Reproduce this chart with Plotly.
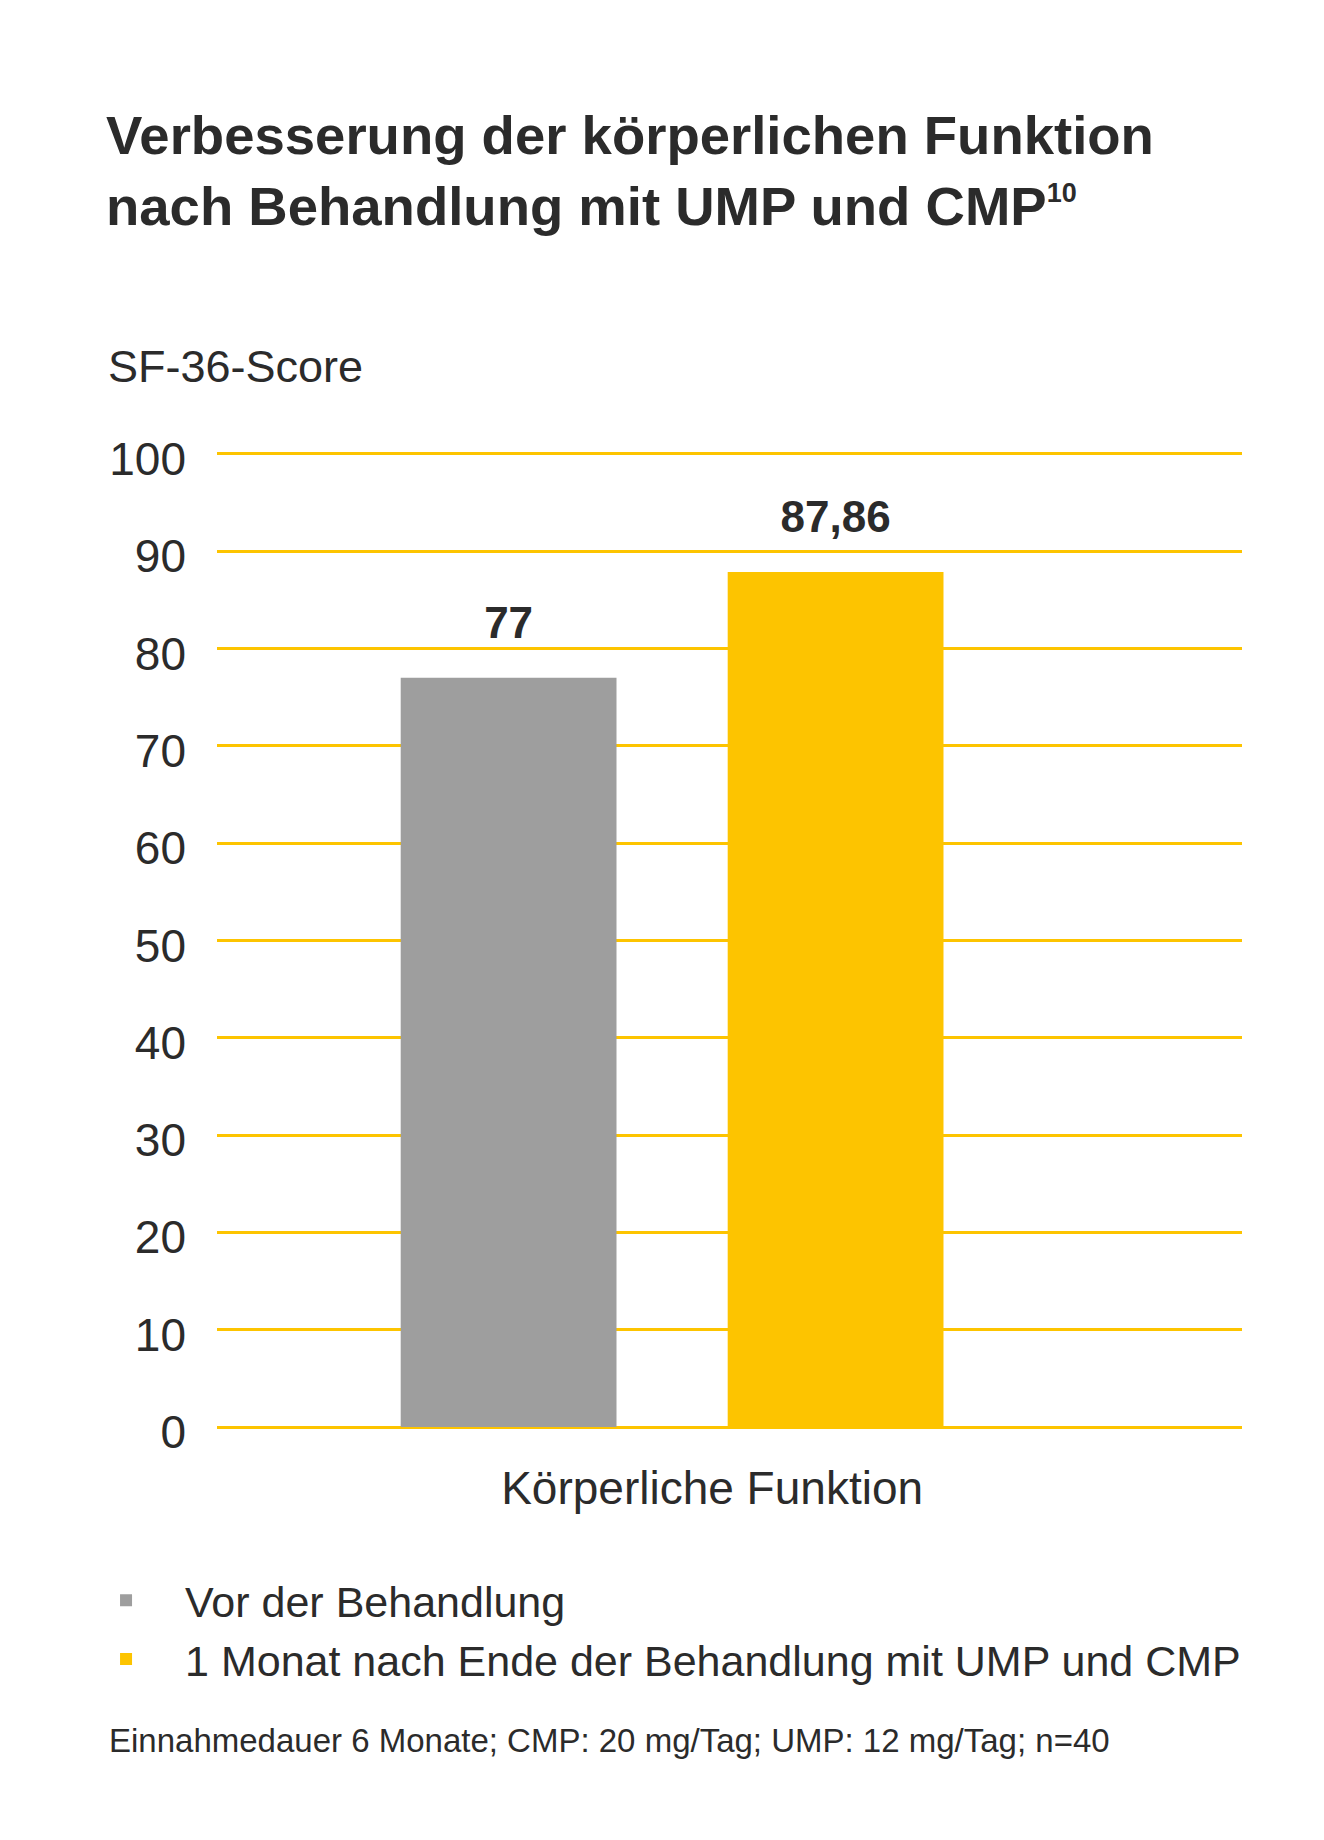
import plotly.graph_objects as go

# data
categories = ["Körperliche Funktion"]
series_names = ["Vor der Behandlung", "1 Monat nach Ende der Behandlung mit UMP und CMP"]
series_values = [[77], [87.86]]
value_labels = [["77"], ["87,86"]]
series_colors = ["#9E9E9E", "#FDC400"]
y_ticks = list(range(0, 101, 10))

title_text = ("Verbesserung der körperlichen Funktion<br>"
              "nach Behandlung mit UMP und CMP"
              "<sup><span style='font-size:27px'>10</span></sup>")
y_title = "SF-36-Score"
footnote = "Einnahmedauer 6 Monate; CMP: 20 mg/Tag; UMP: 12 mg/Tag; n=40"

FONT = "Helvetica Neue, Liberation Sans, Arial, sans-serif"
TEXT = "#2B2B2B"
GRID = "#FDC400"

# page body has an 8px margin, so the figure is 8px smaller than the window
W, H = 1316, 1832

fig = go.Figure()

# bars
for i, name in enumerate(series_names):
    fig.add_trace(go.Bar(
        x=categories,
        y=series_values[i],
        name=name,
        marker_color=series_colors[i],
        marker_line_width=0,
        offsetgroup=f"g{i}",
        hoverinfo="name+y",
    ))

# value labels, grouped like the bars (invisible markers push the text up)
for i, name in enumerate(series_names):
    fig.add_trace(go.Scatter(
        x=categories,
        y=series_values[i],
        mode="markers+text",
        text=value_labels[i],
        textposition="top center",
        textfont=dict(family=FONT, size=44, color=TEXT, weight=700),
        marker=dict(size=45, opacity=0),
        offsetgroup=f"g{i}",
        showlegend=False,
        hoverinfo="skip",
        cliponaxis=False,
    ))

fig.update_layout(
    width=W,
    height=H,
    margin=dict(l=209, r=82, t=442, b=413),
    paper_bgcolor="white",
    plot_bgcolor="white",
    font=dict(family=FONT, color=TEXT),
    barmode="group",
    bargap=0.362,
    bargroupgap=0.34,
    scattermode="group",
    title=dict(
        text=title_text,
        font=dict(family=FONT, size=54.5, color=TEXT, weight=700),
        x=98 / W,
        xref="container",
        xanchor="left",
        y=1 - 146 / H,
        yref="container",
        yanchor="top",
    ),
    legend=dict(
        orientation="v",
        x=-0.1463,
        xanchor="left",
        y=-0.142,
        yanchor="top",
        itemwidth=108,
        font=dict(family=FONT, size=43, color=TEXT),
        traceorder="normal",
        bgcolor="rgba(0,0,0,0)",
    ),
    showlegend=True,
)

fig.update_xaxes(
    range=[-0.444, 0.556],
    showgrid=False,
    zeroline=False,
    showline=False,
    tickfont=dict(family=FONT, size=46, color=TEXT),
    ticklabelshift=40,
    ticklabelstandoff=30,
)

fig.update_yaxes(
    range=[0, 100.4],
    tickvals=y_ticks,
    showgrid=True,
    gridcolor=GRID,
    gridwidth=3,
    zeroline=True,
    zerolinecolor=GRID,
    zerolinewidth=3,
    showline=False,
    tickfont=dict(family=FONT, size=46, color=TEXT),
    ticklabelstandoff=30,
    ticklabelshift=5,
)

fig.add_annotation(
    text=y_title,
    xref="paper", yref="paper",
    x=-0.1083, y=1.085,
    xanchor="left", yanchor="middle",
    showarrow=False,
    font=dict(family=FONT, size=45, color=TEXT),
)

fig.add_annotation(
    text=footnote,
    xref="paper", yref="paper",
    x=-0.1073, y=-0.321,
    xanchor="left", yanchor="middle",
    showarrow=False,
    font=dict(family=FONT, size=33, color=TEXT),
)

fig.write_html("out.html")
